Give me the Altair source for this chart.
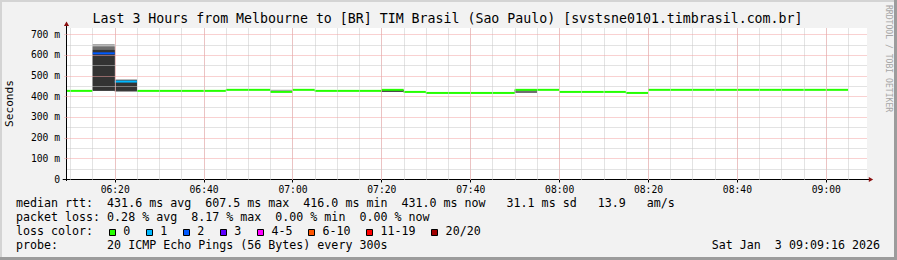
import altair as alt
import pandas as pd

# ---------------- data ----------------
step_start = ["06:05", "06:10", "06:15", "06:20", "06:25", "06:30", "06:35", "06:40",
              "06:45", "06:50", "06:55", "07:00", "07:05", "07:10", "07:15", "07:20",
              "07:25", "07:30", "07:35", "07:40", "07:45", "07:50", "07:55", "08:00",
              "08:05", "08:10", "08:15", "08:20", "08:25", "08:30", "08:35", "08:40",
              "08:45", "08:50", "08:55", "09:00"]
median_ms = [426, 426, 607.5, 471, 426, 426, 426, 426,
             431, 431, 421, 431, 426, 426, 426, 431,
             421, 416, 416, 416, 416, 431, 431, 421,
             421, 421, 416, 431, 431, 431, 431, 431,
             431, 431, 431, 431]
loss_pings = [0, 0, 2, 1, 0, 0, 0, 0,
              0, 0, 0, 0, 0, 0, 0, 0,
              0, 0, 0, 0, 0, 0, 0, 0,
              0, 0, 0, 0, 0, 0, 0, 0,
              0, 0, 0, 0]
smoke_min = [426, 426, 425, 421, 426, 426, 426, 426,
             431, 431, 421, 431, 426, 426, 426, 422,
             421, 416, 416, 416, 416, 416, 431, 421,
             421, 421, 416, 431, 431, 431, 431, 431,
             431, 431, 431, 431]
smoke_max = [426, 426, 653, 482, 426, 426, 426, 426,
             431, 431, 431, 431, 426, 426, 426, 431,
             421, 416, 416, 416, 416, 431, 431, 421,
             421, 421, 416, 431, 431, 431, 431, 431,
             431, 431, 431, 431]
smoke_mid_lo = [426, 426, 426, 424, 426, 426, 426, 426,
                431, 431, 421, 431, 426, 426, 426, 422,
                421, 416, 416, 416, 416, 416, 431, 421,
                421, 421, 416, 431, 431, 431, 431, 431,
                431, 431, 431, 431]
smoke_mid_hi = [426, 426, 641, 479, 426, 426, 426, 426,
                431, 431, 421, 431, 426, 426, 426, 431,
                421, 416, 416, 416, 416, 431, 431, 421,
                421, 421, 416, 431, 431, 431, 431, 431,
                431, 431, 431, 431]
smoke_core_lo = [426, 426, 427, 426, 426, 426, 426, 426,
                 431, 431, 421, 431, 426, 426, 426, 422,
                 421, 416, 416, 416, 416, 431, 431, 421,
                 421, 421, 416, 431, 431, 431, 431, 431,
                 431, 431, 431, 431]
smoke_core_hi = [426, 426, 624, 476, 426, 426, 426, 426,
                 431, 431, 421, 431, 426, 426, 426, 431,
                 421, 416, 416, 416, 416, 431, 431, 421,
                 421, 421, 416, 431, 431, 431, 431, 431,
                 431, 431, 431, 431]

loss_labels = ["0", "1", "2", "3", "4-5", "6-10", "11-19", "20/20"]
loss_colors = ["#26ff00", "#00b8ff", "#0059ff", "#5e00ff", "#ff00ff", "#ff5500", "#ff0000", "#a10000"]
loss_upper = [0, 1, 2, 3, 5, 10, 19, 20]

x_tick_labels = ["06:20", "06:40", "07:00", "07:20", "07:40", "08:00", "08:20", "08:40", "09:00"]
y_tick_values = [0, 100, 200, 300, 400, 500, 600, 700]
y_minor_values = [50, 150, 250, 350, 450, 550, 650]
view_start = "06:09:16"
view_end = "09:09:16"
y_max = 730

title_text = "Last 3 Hours from Melbourne to [BR] TIM Brasil (Sao Paulo) [svstsne0101.timbrasil.com.br]"
rtt_names = ["avg", "max", "min", "now"]
rtt_values = [431.6, 607.5, 416.0, 431.0]
rtt_sd = 31.1
rtt_ams = 13.9
loss_pct = [0.28, 8.17, 0.00, 0.00]
probe_text = "20 ICMP Echo Pings (56 Bytes) every 300s"
date_text = "Sat Jan  3 09:09:16 2026"
side_text = "RRDTOOL / TOBI OETIKER"

# ---------------- helpers ----------------
def to_min(s):
    p = [int(v) for v in s.split(":")]
    return p[0] * 60 + p[1] + (p[2] / 60.0 if len(p) > 2 else 0.0)

def loss_bucket(n):
    for lab, up in zip(loss_labels, loss_upper):
        if n <= up:
            return lab
    return loss_labels[-1]

NB = "\u00a0"
def nb(s):
    return s.replace(" ", NB)

STEP = 5
t0 = [to_min(s) for s in step_start]
steps = pd.DataFrame({
    "t0": t0,
    "t1": [t + STEP for t in t0],
    "median": median_ms,
    "loss": [loss_bucket(n) for n in loss_pings],
    "smin": smoke_min, "smax": smoke_max,
    "mlo": smoke_mid_lo, "mhi": smoke_mid_hi,
    "clo": smoke_core_lo, "chi": smoke_core_hi,
})

W, H = 800, 151
PL, PT = 67, 28
TOTAL_W, TOTAL_H = 897, 260

MONO = "DejaVu Sans Mono"
MAJOR = "#f2a2a2"
MINOR = "#c6c6c6"

xs = alt.Scale(domain=[to_min(view_start), to_min(view_end)], nice=False, zero=False)
ys = alt.Scale(domain=[0, y_max], nice=False, zero=False)

x_minor_axis = alt.Axis(orient="bottom", values=list(range(370, 550, 5)), labels=False, ticks=False,
                        domain=False, grid=True, gridColor=MINOR, gridDash=[1, 1], gridWidth=1,
                        title=None, zindex=1)
y_minor_axis = alt.Axis(orient="left", values=y_minor_values, labels=False, ticks=False,
                        domain=False, grid=True, gridColor=MINOR, gridDash=[1, 1], gridWidth=1,
                        title=None, zindex=1)
x_grid_axis = alt.Axis(orient="bottom", values=[to_min(s) for s in x_tick_labels], labels=False,
                       ticks=False, domain=False, grid=True, gridColor=MAJOR, gridDash=[1, 1],
                       gridWidth=1, title=None, zindex=1)
y_grid_axis = alt.Axis(orient="left", values=y_tick_values[1:], labels=False, ticks=True,
                       tickColor=MAJOR, tickSize=4, tickDash=[1, 1],
                       domain=False, grid=True, gridColor=MAJOR, gridDash=[1, 1],
                       gridWidth=1, title=None, zindex=1)
x_label_axis = alt.Axis(orient="bottom", values=[to_min(s) for s in x_tick_labels],
                        labelExpr="(floor(datum.value/60) < 10 ? '0' : '') + floor(datum.value/60) + ':' + "
                                  "(datum.value % 60 < 10 ? '0' : '') + (datum.value % 60)",
                        grid=False, domain=False, ticks=True, tickColor="#000000", tickSize=3,
                        labelPadding=2.4, labelFont=MONO, labelFontSize=9.7, labelColor="#000000",
                        labelOverlap=False, labelFlush=False, title=None)
y_label_axis = alt.Axis(orient="left", values=y_tick_values,
                        labelExpr="datum.value == 0 ? '0" + NB + NB + "' : datum.value + '" + NB + "m'",
                        grid=False, domain=False, ticks=False, labelPadding=7.4,
                        labelFont=MONO, labelFontSize=9.7, labelColor="#000000",
                        labelOverlap=False, labelFlush=False, labelBaseline="middle", title=None)

base = alt.Chart(steps)
light = base.mark_rect(color="#a9a9a9", clip=True).encode(
    x=alt.X("t0:Q", scale=xs, axis=x_minor_axis), x2="t1:Q",
    y=alt.Y("smin:Q", scale=ys, axis=y_minor_axis), y2="smax:Q")
mid = base.mark_rect(color="#6e6e6e", clip=True).encode(
    x=alt.X("t0:Q", scale=xs, axis=x_grid_axis), x2="t1:Q",
    y=alt.Y("mlo:Q", scale=ys, axis=y_grid_axis), y2="mhi:Q")
core = base.mark_rect(color="#333333", clip=True).encode(
    x=alt.X("t0:Q", scale=xs, axis=None), x2="t1:Q",
    y=alt.Y("clo:Q", scale=ys, axis=None), y2="chi:Q")
med = base.mark_rule(strokeWidth=2, clip=True).encode(
    x=alt.X("t0:Q", scale=xs, axis=x_label_axis), x2="t1:Q",
    y=alt.Y("median:Q", scale=ys, axis=y_label_axis),
    color=alt.Color("loss:N", scale=alt.Scale(domain=loss_labels, range=loss_colors), legend=None))

def PX(f):
    return alt.X(f + ":Q", scale=None, axis=None)

def PY(f):
    return alt.Y(f + ":Q", scale=None, axis=None)

# frame bevel (pixel layout relative to plot origin)
bevel = pd.DataFrame({
    "x": [-PL, -PL, TOTAL_W - PL - 3, -PL],
    "x2": [TOTAL_W - PL, -PL + 2, TOTAL_W - PL, TOTAL_W - PL],
    "y": [-PT, -PT, -PT, TOTAL_H - PT - 3],
    "y2": [-PT + 2, TOTAL_H - PT, TOTAL_H - PT, TOTAL_H - PT],
    "c": ["#d4d4d4", "#d4d4d4", "#9c9c9c", "#9c9c9c"],
})
bevel_layer = alt.Chart(bevel).mark_rect().encode(
    x=PX("x"), x2="x2:Q", y=PY("y"), y2="y2:Q", color=alt.Color("c:N", scale=None))

axes_df = pd.DataFrame({"x": [-4.3, -0.5], "x2": [W + 2, -0.5],
                        "y": [H + 0.5, -2.5], "y2": [H + 0.5, H + 2]})
axes_layer = alt.Chart(axes_df).mark_rule(color="#000000", strokeWidth=1).encode(
    x=PX("x"), x2="x2:Q", y=PY("y"), y2="y2:Q")

arrows_df = pd.DataFrame({"x": [W + 4, -0.5], "y": [H + 0.5, -4.3],
                          "s": ["triangle-right", "triangle-up"]})
arrows_layer = alt.Chart(arrows_df).mark_point(filled=True, size=26, opacity=1, color="#8b1010").encode(
    x=PX("x"), y=PY("y"), shape=alt.Shape("s:N", scale=None))

# texts
CW = 7.02
LX = 16 - PL
line1 = "median rtt:  " + "  ".join("%5.1f ms %s" % (v, n) for v, n in zip(rtt_values, rtt_names)) \
        + "  %5.1f ms sd  %5.1f   am/s" % (rtt_sd, rtt_ams)
line2 = "packet loss: " + "  ".join("%.2f %% %s" % (v, n) for v, n in zip(loss_pct, rtt_names))
line3 = "loss color:"
line4 = "probe:       " + probe_text
legend_df = pd.DataFrame({"x": [LX] * 4, "y": [207.3 - PT, 221.3 - PT, 235.3 - PT, 249.3 - PT],
                          "t": [nb(s) for s in [line1, line2, line3, line4]]})
legend_text = alt.Chart(legend_df).mark_text(font=MONO, fontSize=11.65, align="left", baseline="alphabetic",
                                             color="#000000").encode(x=PX("x"), y=PY("y"), text="t:N")

sq_x, lab_x = [], []
pos = 108.7
for lab in loss_labels:
    sq_x.append(round(pos) + 0.5 - PL)
    lab_x.append(pos + 14.6 - PL)
    pos += 14.6 + len(lab) * CW + 15.4
sq_df = pd.DataFrame({"x": sq_x, "x2": [v + 6 for v in sq_x], "y": [229.5 - PT] * 8,
                      "y2": [235.5 - PT] * 8, "c": loss_colors})
sq_layer = alt.Chart(sq_df).mark_rect(stroke="#000000", strokeWidth=1).encode(
    x=PX("x"), x2="x2:Q", y=PY("y"), y2="y2:Q", fill=alt.Fill("c:N", scale=None))
lab_df = pd.DataFrame({"x": lab_x, "y": [235.3 - PT] * 8, "t": loss_labels})
lab_layer = alt.Chart(lab_df).mark_text(font=MONO, fontSize=11.65, align="left", baseline="alphabetic",
                                        color="#000000").encode(x=PX("x"), y=PY("y"), text="t:N")

date_df = pd.DataFrame({"x": [880 - PL], "y": [249.3 - PT], "t": [nb(date_text)]})
date_layer = alt.Chart(date_df).mark_text(font=MONO, fontSize=11.65, align="right", baseline="alphabetic",
                                          color="#000000").encode(x=PX("x"), y=PY("y"), text="t:N")

title_df = pd.DataFrame({"x": [447.5 - PL], "y": [23.0 - PT], "t": [title_text]})
title_layer = alt.Chart(title_df).mark_text(font=MONO, fontSize=13.25, align="center", baseline="alphabetic",
                                            color="#000000").encode(x=PX("x"), y=PY("y"), text="t:N")

ytitle_df = pd.DataFrame({"x": [10 - PL], "y": [H / 2], "t": ["Seconds"]})
ytitle_layer = alt.Chart(ytitle_df).mark_text(font=MONO, fontSize=11.1, align="center", baseline="middle",
                                              angle=270, color="#000000").encode(x=PX("x"), y=PY("y"), text="t:N")

side_df = pd.DataFrame({"x": [887.7 - PL], "y": [5 - PT], "t": [side_text]})
side_layer = alt.Chart(side_df).mark_text(font=MONO, fontSize=8.1, align="left", baseline="middle",
                                          angle=90, color="#a6a6a6").encode(x=PX("x"), y=PY("y"), text="t:N")

chart = alt.layer(
    bevel_layer, light, mid, core, med, axes_layer, arrows_layer,
    legend_text, sq_layer, lab_layer, date_layer, title_layer, ytitle_layer, side_layer,
).resolve_axis(x="independent", y="independent").properties(
    width=W, height=H,
    autosize=alt.AutoSizeParams(type="none"),
    padding={"left": PL, "top": PT, "right": TOTAL_W - PL - W, "bottom": TOTAL_H - PT - H},
    background="#f2f2f2",
).configure_view(stroke=None, fill="#ffffff")

chart.save("out.html", embed_options={"renderer": "svg", "actions": False})
